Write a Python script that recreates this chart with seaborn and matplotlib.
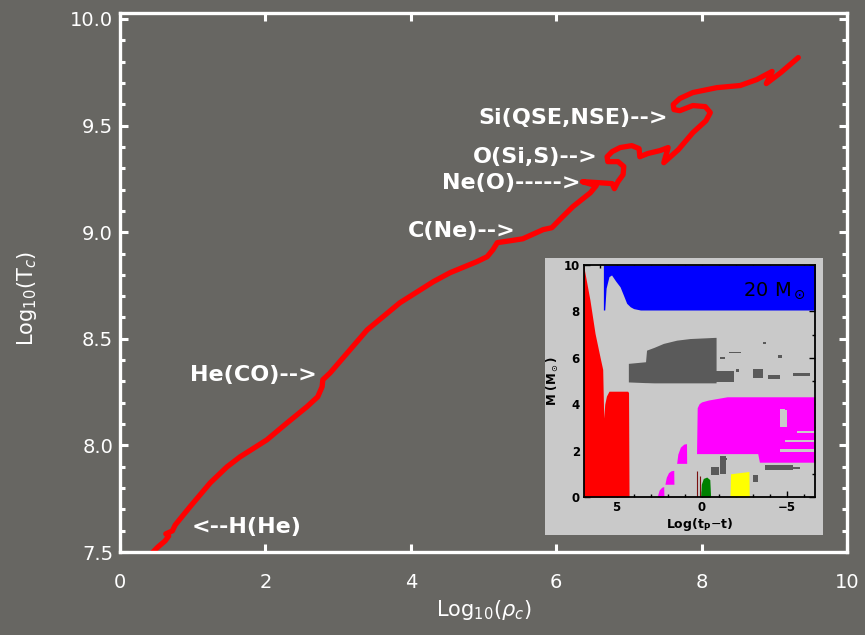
import numpy as np
import pandas as pd
import matplotlib
matplotlib.use("Agg")
import matplotlib.pyplot as plt
import seaborn as sns
from matplotlib.ticker import MultipleLocator
from matplotlib.patches import Rectangle

# ---- central density / temperature evolution of a 20 Msun star ----
log_rho_c = [0.44, 0.52, 0.62, 0.67, 0.63, 0.72, 0.76, 0.96, 1.24, 1.47, 1.65, 2.02,
             2.30, 2.57, 2.72, 2.78, 2.79, 2.89, 3.40, 3.85, 4.31, 4.54, 4.91, 5.05,
             5.13, 5.19, 5.37, 5.54, 5.82, 5.94, 6.09, 6.23, 6.47, 6.55, 6.36, 6.60,
             6.77, 6.80, 6.85, 6.92, 6.93, 6.85, 6.71, 6.70, 6.77, 6.88, 7.04, 7.14,
             7.15, 7.26, 7.43, 7.54, 7.48, 7.68, 7.88, 8.06, 8.12, 8.05, 7.88, 7.70,
             7.62, 7.61, 7.70, 7.88, 8.21, 8.53, 8.76, 8.97, 8.89, 9.09, 9.33]
log_T_c = [7.495, 7.523, 7.552, 7.575, 7.585, 7.599, 7.627, 7.711, 7.824, 7.899, 7.946, 8.026,
           8.106, 8.181, 8.228, 8.275, 8.308, 8.340, 8.542, 8.669, 8.768, 8.810, 8.862, 8.885,
           8.918, 8.951, 8.960, 8.969, 9.012, 9.021, 9.073, 9.120, 9.185, 9.218, 9.237, 9.232,
           9.228, 9.204, 9.237, 9.270, 9.308, 9.331, 9.331, 9.354, 9.378, 9.397, 9.406, 9.392,
           9.354, 9.369, 9.383, 9.397, 9.326, 9.387, 9.467, 9.523, 9.561, 9.589, 9.594, 9.570,
           9.575, 9.599, 9.627, 9.655, 9.678, 9.688, 9.716, 9.754, 9.697, 9.749, 9.819]

# burning stages (fuel and ashes)
stage_labels = ["Si(QSE,NSE)-->", "O(Si,S)-->", "Ne(O)----->", "C(Ne)-->", "He(CO)-->", "<--H(He)"]

x_ticks = [0, 2, 4, 6, 8, 10]
y_ticks = [7.5, 8.0, 8.5, 9.0, 9.5, 10.0]

# ---- Kippenhahn diagram: log(t_p - t) versus mass coordinate ----
blue_x = [5.78, 5.70, 5.62, 5.45, 5.30, 5.05, 4.80, 4.60, 4.41, 4.20, 4.00, 3.60, -6.7]
blue_lo = [8.06, 8.06, 9.00, 9.50, 9.57, 9.30, 9.06, 8.70, 8.35, 8.20, 8.12, 8.06, 8.06]
blue_hi = [10.0] * len(blue_x)

red_x = [6.95, 6.57, 6.27, 5.98, 5.82, 5.76, 5.70, 5.60, 5.45, 4.35, 4.30, 4.27]
red_hi = [10.0, 8.49, 7.05, 6.04, 5.50, 3.40, 4.00, 4.35, 4.56, 4.56, 4.50, 0.0]

shell_x = [4.31, 3.30, 3.24, 2.80, 2.25, 1.47, 0.69, -0.20, -0.78, -0.85]
shell_lo = [4.96, 4.93, 4.93, 4.92, 4.92, 4.92, 4.92, 4.92, 4.92, 4.92]
shell_hi = [5.76, 5.83, 6.33, 6.45, 6.62, 6.76, 6.83, 6.86, 6.88, 6.88]

# scattered convective episodes: (x_left, x_right, m_bottom, m_top)
grey_bits = [(-0.8, -1.9, 4.95, 5.45), (-1.1, -1.4, 5.95, 6.05), (-1.6, -2.3, 6.2, 6.25),
             (-2.0, -2.2, 5.4, 5.5), (-3.0, -3.6, 5.15, 5.5), (-3.9, -4.6, 5.1, 5.25),
             (-5.4, -6.4, 5.2, 5.35), (-3.6, -3.8, 6.6, 6.7), (-4.5, -4.7, 6.0, 6.1),
             (-0.55, -1.0, 0.95, 1.3), (-1.1, -1.45, 1.0, 1.75), (-1.3, -1.5, 1.6, 1.7),
             (-3.0, -3.3, 0.65, 0.95), (-3.7, -5.4, 1.15, 1.40), (-5.4, -5.8, 1.2, 1.3),
             (-2.2, -2.6, 0.3, 0.45)]

he_x = [0.30, 0.26, 0.15, 0.00, -0.40, -1.50, -3.30, -3.40, -6.67]
he_lo = [1.87, 1.87, 1.87, 1.87, 1.87, 1.87, 1.87, 1.50, 1.50]
he_hi = [1.87, 3.85, 4.02, 4.10, 4.18, 4.32, 4.32, 4.32, 4.32]

# gaps inside the helium shell: (x_left, x_right, m_bottom, m_top)
he_gaps = [(-4.6, -5.0, 3.0, 3.75), (-4.9, -6.6, 2.35, 2.45), (-4.6, -6.6, 1.95, 2.05),
           (-5.6, -6.6, 2.75, 2.85), (-4.6, -4.9, 3.7, 3.8)]

pulse_x = [[2.62, 2.50, 2.35, 2.23, 2.22], [2.16, 2.08, 1.95, 1.80, 1.64, 1.63],
           [1.47, 1.40, 1.25, 1.05, 0.89, 0.88]]
pulse_lo = [[0.0, 0.0, 0.0, 0.0, 0.0], [0.55, 0.55, 0.55, 0.55, 0.55, 0.55],
            [1.45, 1.45, 1.45, 1.45, 1.45, 1.45]]
pulse_hi = [[0.0, 0.30, 0.42, 0.45, 0.0], [0.55, 0.85, 1.05, 1.13, 1.15, 0.55],
            [1.45, 1.85, 2.15, 2.28, 2.30, 1.45]]

green_x = [0.06, 0.02, -0.10, -0.30, -0.48, -0.53]
green_hi = [0.0, 0.55, 0.80, 0.86, 0.75, 0.0]

yellow_x = [-1.67, -1.70, -2.78, -2.80]
yellow_hi = [0.0, 1.00, 1.10, 0.0]

# ------------------------------------------------------------------
sns.set_theme(style="ticks")
plt.rcParams["font.family"] = ["DejaVu Sans"]

board = "#676662"
chalk = "white"

fig = plt.figure(figsize=(8.65, 6.35), dpi=100)
fig.patch.set_facecolor(board)

ax = fig.add_axes([120 / 865, 83 / 635, 727 / 865, 539.4 / 635])
ax.set_facecolor(board)

track = pd.DataFrame({"rho": log_rho_c, "T": log_T_c})
sns.lineplot(data=track, x="rho", y="T", sort=False, estimator=None,
             color="#ff0000", lw=3.8, solid_joinstyle="round",
             solid_capstyle="round", ax=ax)

ax.set_xlim(0, 10)
ax.set_ylim(7.5, 10.03)
ax.set_xticks(x_ticks)
ax.set_xticklabels([str(v) for v in x_ticks])
ax.set_yticks(y_ticks)
ax.set_yticklabels([f"{v:.1f}" for v in y_ticks])
ax.yaxis.set_minor_locator(MultipleLocator(0.1))
for s in ax.spines.values():
    s.set_color(chalk)
    s.set_linewidth(2.4)
ax.tick_params(which="both", direction="in", colors=chalk, top=True, right=True,
               width=2.2, labelsize=14)
ax.tick_params(which="major", length=6)
ax.tick_params(which="minor", length=3.5)
ax.tick_params(axis="x", which="major", pad=15)
ax.tick_params(axis="y", which="major", pad=5)

ax.set_xlabel(r"Log$_{10}$($\rho_c$)", color=chalk, fontsize=15)
ax.set_ylabel(r"Log$_{10}$(T$_c$)", color=chalk, fontsize=15)
ax.xaxis.set_label_coords(0.5, -0.085)
ax.yaxis.set_label_coords(-0.112, 0.47)

# stage annotations: arrow tips point at the track
tips = [(7.54, 9.537, "right"), (6.575, 9.354, "right"), (6.33, 9.232, "right"),
        (5.447, 9.007, "right"), (2.71, 8.331, "right"), (0.99, 7.617, "left")]
for text, (tx, ty, ha) in zip(stage_labels, tips):
    ax.text(tx, ty, text, color=chalk, fontsize=16, fontweight="bold",
            ha=ha, va="center")

# ---- inset Kippenhahn diagram ----
panel_grey = "#c9c9c9"
fig.patches.append(Rectangle((545 / 865, 100 / 635), 278 / 865, 277 / 635,
                             transform=fig.transFigure, facecolor=panel_grey,
                             edgecolor="none", zorder=5))
ins = fig.add_axes([584 / 865, 138 / 635, 231 / 865, 232 / 635], zorder=6)
ins.set_facecolor(panel_grey)

ins.fill_between(blue_x, blue_lo, blue_hi, color="#0000ff", lw=0)
ins.fill_between(red_x, 0, red_hi, color="#ff0000", lw=0)
ins.fill_between(shell_x, shell_lo, shell_hi, color="#5a5a5a", lw=0)
for x0, x1, m0, m1 in grey_bits:
    ins.fill_between([x0, x1], m0, m1, color="#5a5a5a", lw=0)
ins.fill_between(he_x, he_lo, he_hi, color="#ff00ff", lw=0)
for x0, x1, m0, m1 in he_gaps:
    ins.fill_between([x0, x1], m0, m1, color=panel_grey, lw=0)
for px, plo, phi in zip(pulse_x, pulse_lo, pulse_hi):
    ins.fill_between(px, plo, phi, color="#ff00ff", lw=0)
ins.fill_between(green_x, 0, green_hi, color="#008000", lw=0)
ins.fill_between(yellow_x, 0, yellow_hi, color="#ffff00", lw=0)
ins.vlines([0.30, 0.10], 0, [1.1, 0.9], color="#7a1010", lw=0.8)

ins.set_xlim(6.92, -6.67)
ins.set_ylim(0, 10)
ins.set_xticks([5, 0, -5])
ins.set_xticklabels(["5", "0", "\u22125"])
ins.set_yticks([0, 2, 4, 6, 8, 10])
ins.xaxis.set_minor_locator(MultipleLocator(1))
ins.yaxis.set_minor_locator(MultipleLocator(1))
for s in ins.spines.values():
    s.set_color("black")
    s.set_linewidth(1.3)
ins.tick_params(which="both", direction="in", top=True, right=True, colors="black",
                width=1.0, labelsize=8.5)
ins.tick_params(which="major", length=4.5, pad=3)
ins.tick_params(which="minor", length=2.5)
for lab in ins.get_xticklabels() + ins.get_yticklabels():
    lab.set_fontweight("bold")
ins.set_xlabel(r"Log(t$_\mathbf{P}$$-$t)", fontsize=9, fontweight="bold",
               color="black", labelpad=1)
ins.set_ylabel(r"M (M$_\odot$)", fontsize=8.5, fontweight="bold",
               color="black", labelpad=2)
ins.text(-4.3, 8.9, r"20 M$_\odot$", fontsize=14, color="black",
         ha="center", va="center")

fig.savefig("out.png", dpi=100, facecolor=board)
